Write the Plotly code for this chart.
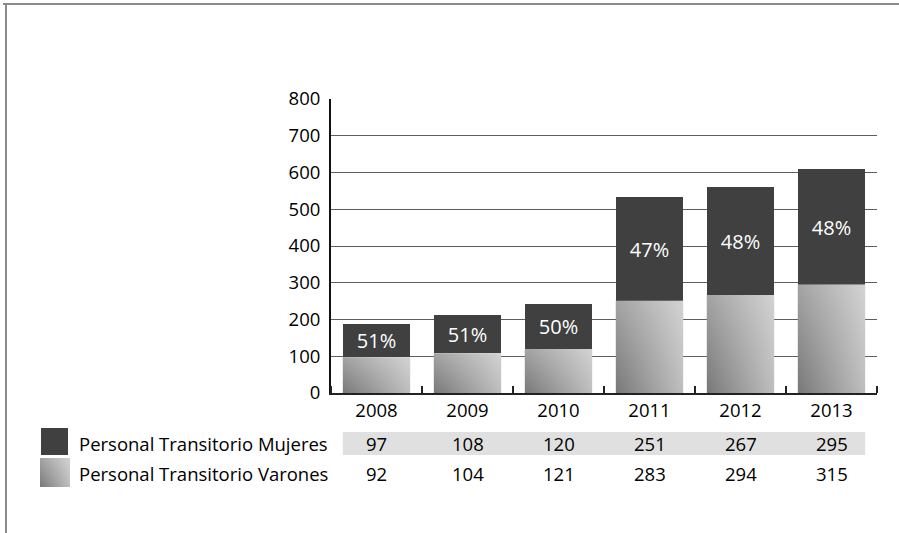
import plotly.graph_objects as go

# data
years = ["2008", "2009", "2010", "2011", "2012", "2013"]
mujeres = [97, 108, 120, 251, 267, 295]
varones = [92, 104, 121, 283, 294, 315]
series_names = ["Personal Transitorio Mujeres", "Personal Transitorio Varones"]
y_ticks = [0, 100, 200, 300, 400, 500, 600, 700, 800]

W, H = 899, 533
FONT = "Open Sans"
FS = 18.5
DARK = "#404040"
BAR_W = 0.74
HALF = BAR_W / 2
H_GRAD = [[0, "#787878"], [1, "#bebebe"]]
V_GRAD = [[0, "rgba(255,255,255,0)"], [1, "rgba(255,255,255,0.32)"]]


def px(x):
    return x / W


def py(y):
    return 1 - y / H


pct = [round(100 * m / (m + v)) for m, v in zip(mujeres, varones)]
xs = list(range(len(years)))

fig = go.Figure()

# lower segments: rectangles with a gradient fill (bars cannot take gradients)
for i, val in zip(xs, mujeres):
    rx = [i - HALF, i + HALF, i + HALF, i - HALF, i - HALF]
    ry = [0, 0, val, val, 0]
    fig.add_trace(go.Scatter(
        x=rx, y=ry, mode="lines", fill="toself", line=dict(width=0),
        fillgradient=dict(type="horizontal", colorscale=H_GRAD),
        hoverinfo="skip", showlegend=False,
    ))
    fig.add_trace(go.Scatter(
        x=rx, y=ry, mode="lines", fill="toself", line=dict(width=0),
        fillgradient=dict(type="vertical", colorscale=V_GRAD),
        hoverinfo="skip", showlegend=False,
    ))

# upper segments
fig.add_trace(go.Bar(
    x=xs, y=varones, base=mujeres, width=BAR_W,
    marker=dict(color=DARK, line=dict(width=0)),
    text=[f"{p}%" for p in pct], textposition="inside",
    insidetextanchor="middle", constraintext="none",
    textfont=dict(family=FONT, size=20, color="white"),
    showlegend=False, hoverinfo="skip",
))

# legend swatch with the same gradient, on a full-page helper axis (pixel units)
sw_x = [40, 70, 70, 40, 40]
sw_y = [487, 487, 458, 458, 487]
fig.add_trace(go.Scatter(
    x=sw_x, y=sw_y, xaxis="x2", yaxis="y2", mode="lines", fill="toself",
    line=dict(width=0),
    fillgradient=dict(type="horizontal", colorscale=H_GRAD),
    hoverinfo="skip", showlegend=False,
))
fig.add_trace(go.Scatter(
    x=sw_x, y=sw_y, xaxis="x2", yaxis="y2", mode="lines", fill="toself",
    line=dict(width=0),
    fillgradient=dict(type="vertical", start=487, stop=458, colorscale=V_GRAD),
    hoverinfo="skip", showlegend=False,
))

shapes = [
    # page frame
    dict(type="line", xref="paper", yref="paper", x0=px(3), x1=px(899),
         y0=py(4), y1=py(4), line=dict(color="#8a8a8a", width=2)),
    dict(type="line", xref="paper", yref="paper", x0=px(6), x1=px(6),
         y0=py(4), y1=py(533), line=dict(color="#8a8a8a", width=2)),
    # shaded data row
    dict(type="rect", xref="x", yref="paper", x0=-HALF, x1=len(years) - 1 + HALF,
         y0=py(455), y1=py(432), fillcolor="#e0e0e0", line=dict(width=0),
         layer="below"),
    # dark legend swatch
    dict(type="rect", xref="paper", yref="paper", x0=px(41), x1=px(68),
         y0=py(455), y1=py(428), fillcolor=DARK, line=dict(width=0)),
]

annotations = []
row_y = [443, 473]
for name, ry in zip(series_names, row_y):
    annotations.append(dict(
        x=px(77), y=py(ry), xref="paper", yref="paper", text=name,
        showarrow=False, xanchor="left", yanchor="middle",
        font=dict(family=FONT, size=FS, color="black"),
    ))
for vals, ry in zip([mujeres, varones], row_y):
    for i, v in zip(xs, vals):
        annotations.append(dict(
            x=i, y=py(ry), xref="x", yref="paper", text=str(v),
            showarrow=False, xanchor="center", yanchor="middle",
            font=dict(family=FONT, size=FS, color="black"),
        ))

fig.update_layout(
    width=W, height=H, autosize=False,
    margin=dict(l=0, r=0, t=0, b=0, pad=0),
    paper_bgcolor="white", plot_bgcolor="rgba(0,0,0,0)",
    barmode="overlay", bargap=0, showlegend=False,
    font=dict(family=FONT, size=FS, color="black"),
    shapes=shapes, annotations=annotations,
    xaxis=dict(
        domain=[px(331), px(877)], range=[-0.5, len(years) - 0.5],
        tickmode="array", tickvals=xs, ticktext=years, ticks="",
        showgrid=False, zeroline=False, showline=True, linecolor="#222",
        linewidth=2, ticklabelstandoff=0, automargin=False,
        minor=dict(tickmode="array", tickvals=[i - 0.5 for i in range(len(years) + 1)],
                   ticks="inside", ticklen=7, tickcolor="#222", tickwidth=2,
                   showgrid=False),
        tickfont=dict(family=FONT, size=FS),
        fixedrange=True,
    ),
    yaxis=dict(
        domain=[py(393), py(99)], range=[0, 800],
        tickmode="array", tickvals=y_ticks, ticks="",
        showgrid=True, gridcolor="#5e5e5e", gridwidth=1.2,
        zeroline=False, showline=True, linecolor="#111", linewidth=2,
        tickfont=dict(family=FONT, size=FS), ticklabelstandoff=5,
        automargin=False, fixedrange=True,
    ),
    xaxis2=dict(domain=[0, 1], range=[0, W], visible=False, anchor="y2",
                automargin=False, fixedrange=True),
    yaxis2=dict(domain=[0, 1], range=[H, 0], visible=False, anchor="x2",
                automargin=False, fixedrange=True),
)

# drop the browser's default body margin so the figure sits at the page corner
fig.write_html("out.html", config={"displayModeBar": False},
               post_script="document.body.style.margin='0';"
                           "document.body.style.overflow='hidden';")
